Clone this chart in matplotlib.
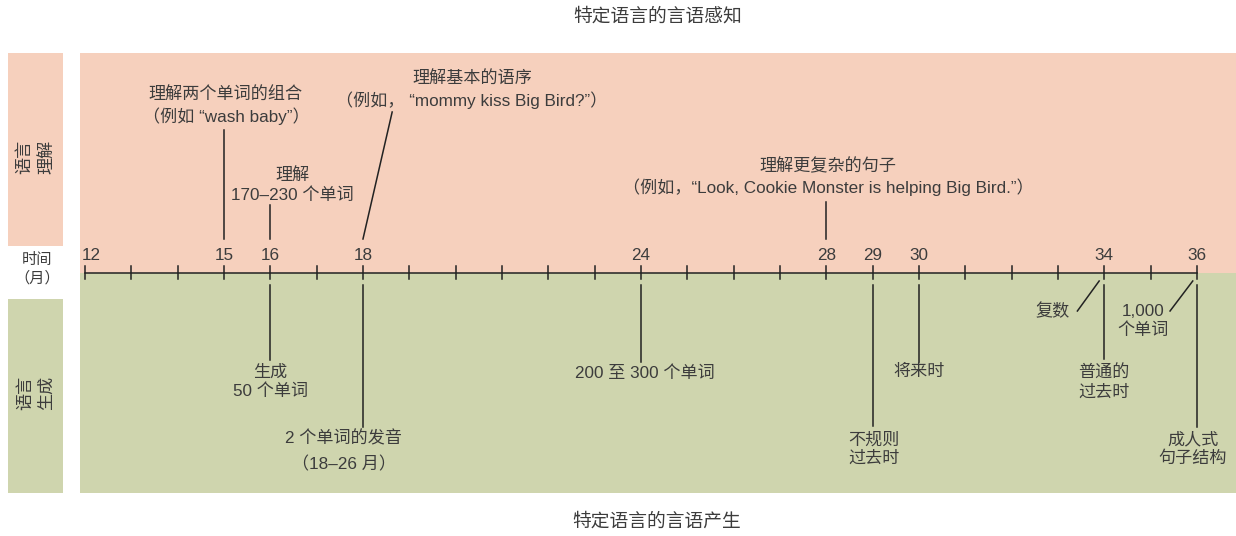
import matplotlib.pyplot as plt
from matplotlib.patches import Rectangle

plt.rcParams['font.family'] = ['Liberation Sans', 'Noto Sans CJK SC', 'DejaVu Sans']

# timeline data (months)
months = list(range(12, 37))
labeled_months = [12, 15, 16, 18, 24, 28, 29, 30, 34, 36]

comp_months = [15, 16, 18, 28]
comp_labels = ["理解两个单词的组合\n（例如 “wash baby”）",
               "理解\n170–230 个单词",
               "理解基本的语序\n（例如， “mommy kiss Big Bird?”）",
               "理解更复杂的句子\n（例如，“Look, Cookie Monster is helping Big Bird.”）"]

prod_months = [16, 18, 24, 29, 30, 34, 34, 36, 36]
prod_labels = ["生成\n50 个单词",
               "2 个单词的发音\n（18–26 月）",
               "200 至 300 个单词",
               "不规则\n过去时",
               "将来时",
               "普通的\n过去时",
               "复数",
               "1,000\n个单词",
               "成人式\n句子结构"]

pink = '#f6d0bd'
green = '#cfd5ae'
txt = '#3c3c3c'
ln = '#222222'
fs = 12.3

fig = plt.figure(figsize=(12.36, 5.36), dpi=100)
ax = fig.add_axes([0, 0, 1, 1])
px = 46.33  # pixels per month
ax.set_xlim(12 - 85 / px, 12 - 85 / px + 1236 / px)
ax.set_ylim(536, 0)
ax.axis('off')

x0 = 12 - 85 / px
axis_y = 273

# background bands
ax.add_patch(Rectangle((12 - 5 / px, 53), 40, axis_y - 53, color=pink, lw=0))
ax.add_patch(Rectangle((12 - 5 / px, axis_y), 40, 493 - axis_y, color=green, lw=0))
ax.add_patch(Rectangle((x0 + 8 / px, 53), 55 / px, 193, color=pink, lw=0))
ax.add_patch(Rectangle((x0 + 8 / px, 299), 55 / px, 194, color=green, lw=0))

# side labels
ax.text(x0 + 35.5 / px, 157, "语言\n理解", rotation=90, ha='center', va='center',
        fontsize=fs, color=txt, linespacing=1.45)
ax.text(x0 + 35.5 / px, 393, "语言\n生成", rotation=90, ha='center', va='center',
        fontsize=fs, color=txt, linespacing=1.45)
ax.text(x0 + 37 / px, 269, "时间\n（月）", ha='center', va='center',
        fontsize=11, color=txt, linespacing=1.35)

# axis with ticks
ax.plot([months[0], months[-1]], [axis_y, axis_y], color=ln, lw=1.1)
for m in months:
    ax.plot([m, m], [axis_y - 7, axis_y + 6], color=ln, lw=1.1)
for m in labeled_months:
    xoff = 0.13 if m == 12 else 0
    ax.text(m + xoff, 255, str(m), ha='center', va='center', fontsize=fs, color=txt)

# comprehension annotations (above)
comp_text_pos = [(0.04, 106), (0.47, 185), (2.35, 90), (0.04, 177)]
comp_line = [((0, 130), (0, 239)), ((0, 205), (0, 239)),
             ((0.63, 112), (0, 239)), ((0, 202), (0, 239))]
for m, lab, (dx, ty), ((a, ya), (b, yb)) in zip(comp_months, comp_labels, comp_text_pos, comp_line):
    ax.plot([m + a, m + b], [ya, yb], color=ln, lw=1.1)
    ax.text(m + dx, ty, lab, ha='center', va='center', fontsize=fs, color=txt, linespacing=1.3)

# production annotations (below)
prod_text_pos = [(0, 382), (-0.41, 451), (0.08, 373), (0.02, 449), (0, 371),
                 (0, 382), (-1.11, 311), (-1.16, 321), (-0.09, 449)]
prod_line = [((0, 285), (0, 360)), ((0, 285), (0, 427)), ((0, 285), (0, 362)),
             ((0, 285), (0, 426)), ((0, 285), (0, 362)), ((0, 285), (0, 359)),
             ((-0.11, 281), (-0.58, 311)), ((-0.09, 281), (-0.58, 311)),
             ((0, 285), (0, 427))]
for i, (m, lab, (dx, ty), ((a, ya), (b, yb))) in enumerate(zip(prod_months, prod_labels, prod_text_pos, prod_line)):
    ax.plot([m + a, m + b], [ya, yb], color=ln, lw=1.1)
    lsp = 1.75 if i == 1 else 1.3
    ax.text(m + dx, ty, lab, ha='center', va='center', fontsize=fs, color=txt, linespacing=lsp)

# titles
fig.text(658 / 1236, 1 - 17 / 536, "特定语言的言语感知", ha='center', va='center', fontsize=13.5, color=txt)
fig.text(657 / 1236, 1 - 522 / 536, "特定语言的言语产生", ha='center', va='center', fontsize=13.5, color=txt)

fig.savefig('out.png', dpi=100)
